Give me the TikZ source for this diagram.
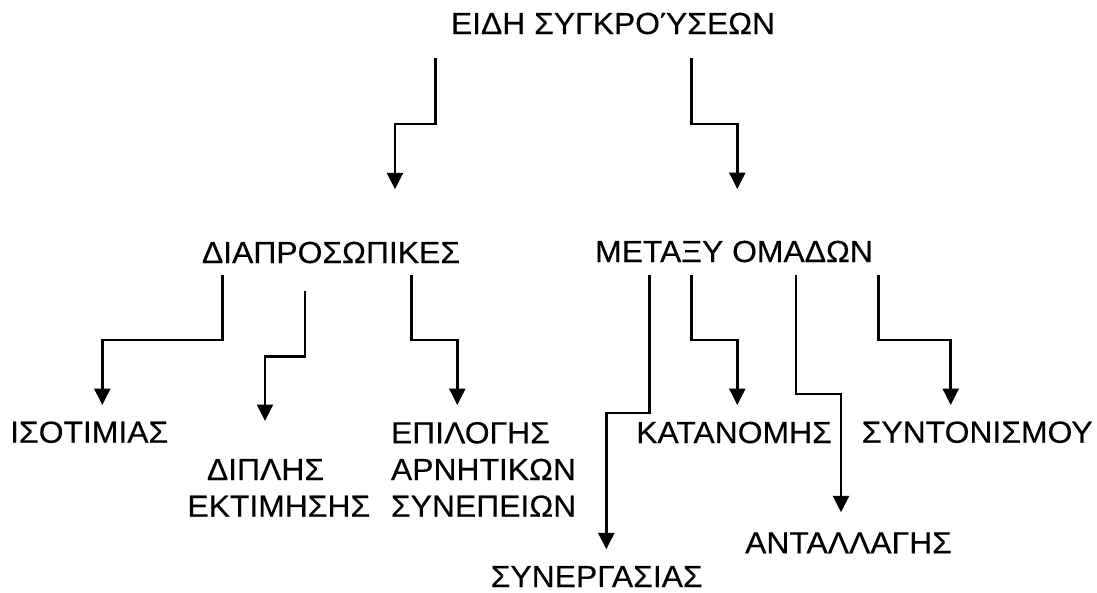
\documentclass[tikz,border=0pt]{standalone}
\usepackage{fontspec}
\setmainfont{Liberation Sans}[FakeStretch=1.045,FakeBold=0.3]
\usetikzlibrary{arrows.meta}

\begin{document}
\begin{tikzpicture}[x=1pt,y=-1pt,
  lbl/.style={inner sep=0pt, outer sep=0pt, text height=21pt, text depth=0pt,
              font=\fontsize{30.5}{36.7}\selectfont},
  arr/.style={line width=2.6pt, -{Triangle[length=16.5pt,width=16pt]}}
]
\useasboundingbox (0,0) rectangle (1097,592);

% levels of the tree
\node[lbl, anchor=base] (title) at (613,34) {ΕΙΔΗ ΣΥΓΚΡΟΎΣΕΩΝ};

\node[lbl, anchor=base] (dia) at (331,263) {ΔΙΑΠΡΟΣΩΠΙΚΕΣ};
\node[lbl, anchor=base] (met) at (734,262) {ΜΕΤΑΞΥ ΟΜΑΔΩΝ};

\node[lbl, anchor=base] (iso)  at (89.2,442.7) {ΙΣΟΤΙΜΙΑΣ};
\node[lbl, anchor=base] (dip)  at (265.5,480)  {ΔΙΠΛΗΣ};
\node[lbl, anchor=base] (dip2) at (278.8,516.7) {ΕΚΤΙΜΗΣΗΣ};
\node[lbl, anchor=base west] (epi)  at (391,443.3) {ΕΠΙΛΟΓΗΣ};
\node[lbl, anchor=base west] (epi2) at (391,480)   {ΑΡΝΗΤΙΚΩΝ};
\node[lbl, anchor=base west] (epi3) at (391,516.7) {ΣΥΝΕΠΕΙΩΝ};

\node[lbl, anchor=base] (kat)  at (734,443)   {ΚΑΤΑΝΟΜΗΣ};
\node[lbl, anchor=base] (synt) at (977.2,442.7) {ΣΥΝΤΟΝΙΣΜΟΥ};
\node[lbl, anchor=base] (ant)  at (848.5,553.3) {ΑΝΤΑΛΛΑΓΗΣ};
\node[lbl, anchor=base] (syn)  at (596.7,587) {ΣΥΝΕΡΓΑΣΙΑΣ};

% stepped connectors
\draw[arr, shorten <=24.3pt, shorten >=52.7pt]
  (title.south -| 435.7,0) |- (395,124) -- (dia.north -| 395,0);
\draw[arr, shorten <=24.3pt, shorten >=52pt]
  (title.south -| 691.7,0) |- (737.3,124) -- (met.north -| 737.3,0);

\draw[arr, shorten <=12pt, shorten >=16.7pt]
  (dia.south -| 222.3,0) |- (102.3,340) -- (iso.north -| 102.3,0);
\draw[arr, shorten <=28pt, shorten >=38pt]
  (dia.south -| 305,0) |- (265,356.7) -- (dip.north -| 265,0);
\draw[arr, shorten <=12pt, shorten >=17.3pt]
  (dia.south -| 411.7,0) |- (457.3,340) -- (epi.north -| 457.3,0);

\draw[arr, shorten <=13pt, shorten >=16.7pt]
  (met.south -| 649.3,0) |- (606.3,413) -- (syn.north -| 606.3,0);
\draw[arr, shorten <=13pt, shorten >=17pt]
  (met.south -| 691.7,0) |- (737.3,340) -- (kat.north -| 737.3,0);
\draw[arr, shorten <=13pt, shorten >=20pt]
  (met.south -| 796,0) |- (841,394) -- (ant.north -| 841,0);
\draw[arr, shorten <=13pt, shorten >=16.7pt]
  (met.south -| 878.3,0) |- (950.7,340) -- (synt.north -| 950.7,0);
\end{tikzpicture}
\end{document}
